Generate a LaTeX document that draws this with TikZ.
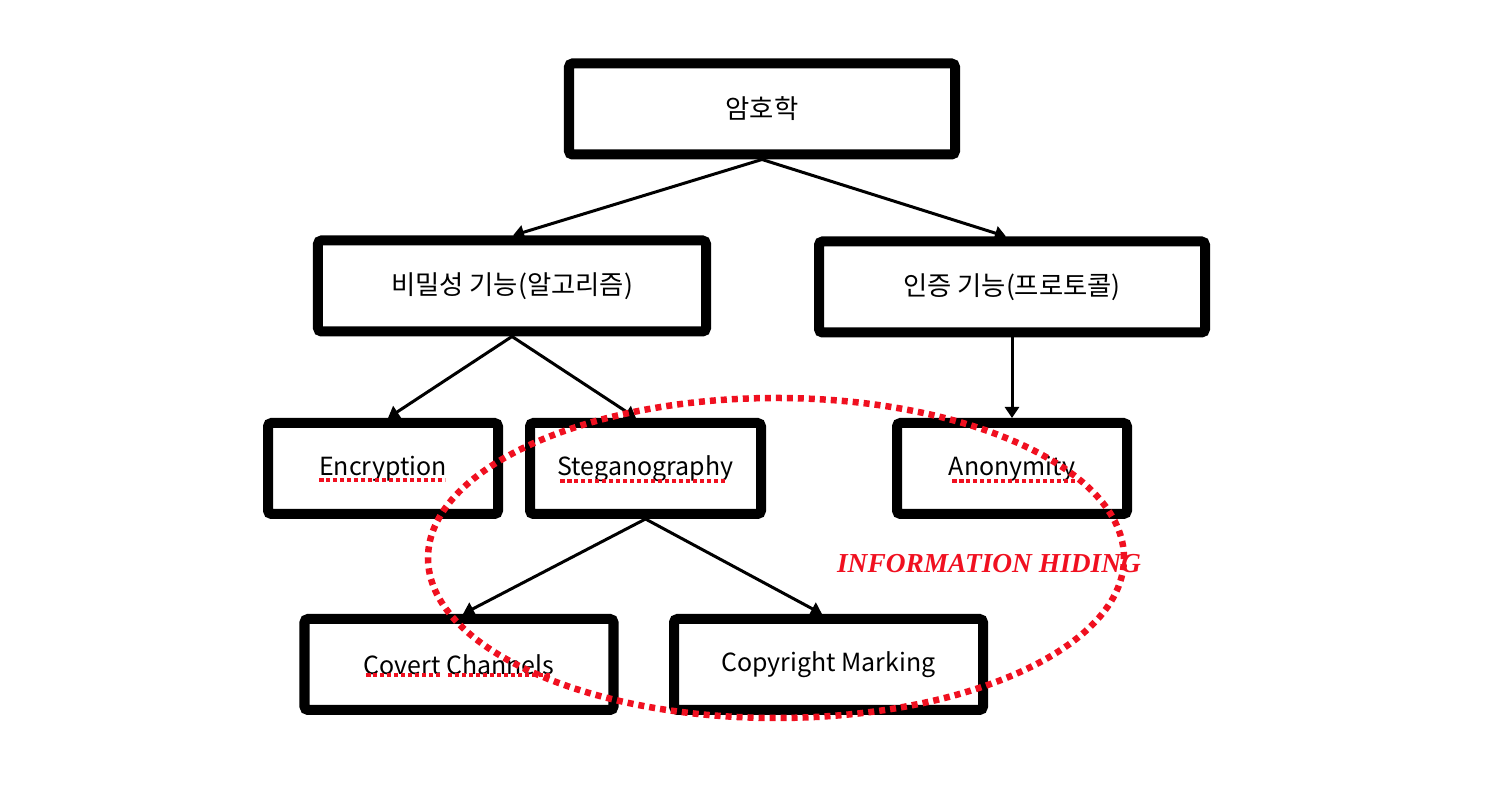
\documentclass[tikz,border=0pt]{standalone}
\usepackage{fontspec}
\setmainfont{Liberation Serif}
\newfontfamily\krfont{Noto Sans CJK KR}
\usetikzlibrary{arrows.meta}
\definecolor{hidingred}{RGB}{240,16,32}
\begin{document}
\begin{tikzpicture}[
    box/.style={draw, line width=0.1cm, rounded corners=1pt, minimum height=0.91cm, inner sep=0pt, font=\krfont\fontsize{7.5}{9}\selectfont},
    latin box/.style={box, font=\krfont\fontsize{7.1}{9}\selectfont},
    arrow line/.style={draw, line width=0.03cm, -{Triangle[width=0.14cm,length=0.11cm]}},
    red underline/.style={draw, hidingred, line width=0.035cm, dash pattern=on 0.045cm off 0.025cm},
    hiding line/.style={draw, hidingred, line width=0.065cm, dash pattern=on 0.06cm off 0.05cm},
    ]
\useasboundingbox (0,0) rectangle (14.88,-7.98);
\node[box, minimum width=3.86cm] (crypto) at (7.62,-1.09) {암호학};
\node[box, minimum width=3.88cm] (secret) at (5.12,-2.86) {비밀성 기능(알고리즘)};
\node[box, minimum width=3.86cm] (auth) at (10.12,-2.87) {인증 기능(프로토콜)};
\node[latin box, minimum width=2.30cm] (encrypt) at (3.83,-4.685) {Encryption};
\node[latin box, minimum width=2.31cm] (stego) at (6.455,-4.685) {Steganography};
\node[latin box, minimum width=2.30cm] (anon) at (10.12,-4.685) {Anonymity};
\node[latin box, minimum width=3.09cm] (covert) at (4.59,-6.645) {Covert Channels};
\node[latin box, minimum width=3.09cm] (copy) at (8.285,-6.645) {Copyright Marking};
\draw[arrow line] (crypto.south) -- ([xshift=0.01cm]secret.north);
\draw[arrow line] (crypto.south) -- ([xshift=-0.06cm]auth.north);
\draw[arrow line] (secret.south) -- ([xshift=0.05cm]encrypt.north);
\draw[arrow line] (secret.south) -- ([xshift=-0.095cm]stego.north);
\draw[arrow line] (auth.south) -- (anon.north);
\draw[arrow line] (stego.south) -- ([xshift=0.04cm]covert.north);
\draw[arrow line] (stego.south) -- ([xshift=-0.065cm]copy.north);
% spell-check marks
\draw[red underline] (3.19,-4.80) -- (4.45,-4.80);
\draw[red underline] (5.60,-4.81) -- (7.25,-4.81);
\draw[red underline] (9.52,-4.81) -- (10.75,-4.81);
\draw[red underline] (3.66,-6.75) -- (4.40,-6.75);
\draw[red underline] (4.48,-6.75) -- (5.52,-6.75);
\draw[hiding line] (7.76,-5.58) ellipse [x radius=3.48cm, y radius=1.6cm];
\node[font=\bfseries\itshape\fontsize{7.8}{10}\selectfont, text=hidingred, inner sep=0pt] (hidinglabel) at (9.89,-5.64) {INFORMATION HIDING};
\end{tikzpicture}
\end{document}
